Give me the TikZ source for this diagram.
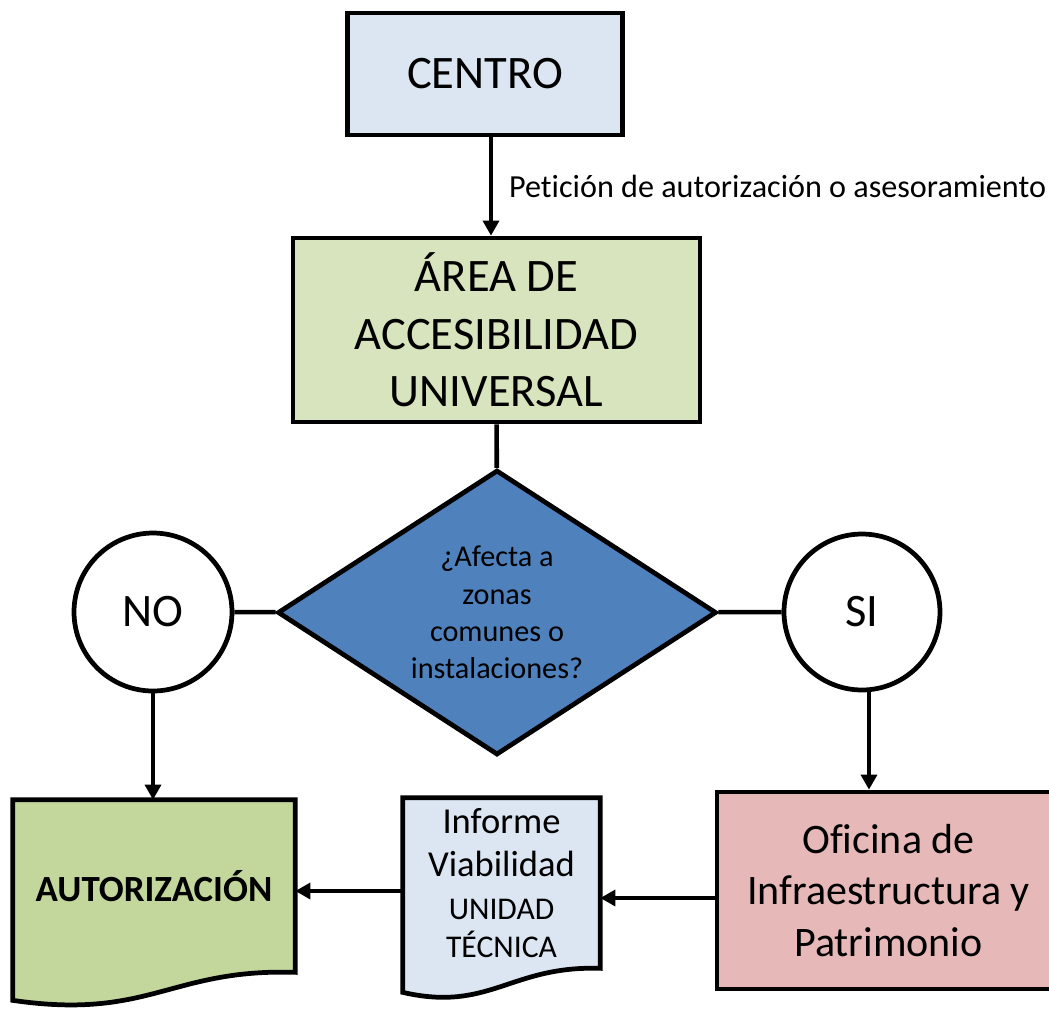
\documentclass[tikz,border=0pt]{standalone}
\usepackage{fontspec}
\setmainfont{Carlito}[Ligatures=NoCommon]
\usetikzlibrary{shapes.geometric,arrows.meta,backgrounds}
\definecolor{centroblue}{HTML}{DCE6F2}
\definecolor{areagreen}{HTML}{D7E4BD}
\definecolor{decblue}{HTML}{4F81BD}
\definecolor{autgreen}{HTML}{C3D69B}
\definecolor{ofipink}{HTML}{E6B9B8}
\newcommand{\bigtext}{\fontsize{26.5}{32.7}\selectfont}

\begin{document}
\begin{tikzpicture}[x=0.02cm,y=-0.02cm,
    box/.style={draw,line width=2.7pt,inner sep=0pt,align=center,font=\bigtext},
    answer/.style={circle,draw,fill=white,line width=2.7pt,minimum size=3.16cm,inner sep=0pt,font=\bigtext},
    docbox/.style={inner sep=0pt,align=center},
    doc/.style={draw,line width=2.7pt},
    link/.style={line width=2.6pt},
    arr/.style={line width=2.6pt,-{Triangle[length=8.5pt,width=9pt]}}]
  \useasboundingbox (0,0) rectangle (1049,1009);

  \node[box,fill=centroblue,minimum width=5.5cm,minimum height=2.44cm] (centro) at (485,74) {CENTRO};
  \node[box,fill=areagreen,minimum width=8.14cm,minimum height=3.68cm] (area) at (496.5,330)
    {ÁREA DE\\ACCESIBILIDAD\\UNIVERSAL};
  \node[diamond,draw,fill=decblue,line width=2.7pt,aspect=1.54,minimum width=8.78cm,
    minimum height=5.7cm,inner sep=0pt,align=center,font=\fontsize{17.2}{21.3}\selectfont]
    (dec) at (497,612.5) {¿Afecta a\\zonas\\comunes o\\instalaciones?};
  \node[answer] (no) at (153,612) {NO};
  \node[answer,minimum size=3.12cm] (si) at (862,612) {SI};
  \node[box,fill=ofipink,minimum width=6.86cm,minimum height=3.94cm,
    font=\fontsize{23.9}{29.3}\selectfont] (ofi) at (888.5,890.5)
    {Oficina de\\Infraestructura y\\Patrimonio};
  \node[docbox,minimum width=5.64cm,minimum height=3.44cm,
    font=\bfseries\fontsize{21}{25}\selectfont] (aut) at (154,886) {AUTORIZACIÓN};
  \node[docbox,minimum width=3.94cm,minimum height=3.4cm,
    font=\fontsize{20.8}{24.5}\selectfont] (inf) at (501.5,883)
    {Informe\\Viabilidad\\{\fontsize{18}{21}\selectfont UNIDAD}\\[-3pt]{\fontsize{18}{21}\selectfont TÉCNICA}};

  % document outlines behind the texts
  \begin{scope}[on background layer]
    \draw[doc,fill=autgreen] (aut.north west) -- (aut.north east) -- (aut.south east)
      .. controls +(-125,-4) and +(137,20) .. ([yshift=-0.56cm]aut.south west) -- cycle;
    \draw[doc,fill=centroblue] (inf.north west) -- (inf.north east) -- (inf.south east)
      .. controls +(-90,-3) and +(87,20) .. ([yshift=-0.48cm]inf.south west) -- cycle;
  \end{scope}

  \draw[arr] ([xshift=0.12cm]centro.south) -- ([xshift=0.12cm]centro.south |- area.north)
    node[midway,right,xshift=0.2cm,font=\fontsize{18.3}{22}\selectfont] {Petición de autorización o asesoramiento};
  \draw[link] (area) -- (dec);
  \draw[link] (dec) -- (no);
  \draw[link] (dec) -- (si);
  \draw[arr] (no.south) -- (no.south |- aut.north);
  \draw[arr] ([xshift=0.14cm]si.south) -- ([xshift=0.14cm]si.south |- ofi.north);
  \draw[arr] ([yshift=-0.15cm]ofi.west) -- ([yshift=-0.15cm]ofi.west -| inf.east);
  \draw[arr] ([yshift=-0.16cm]inf.west) -- ([yshift=-0.16cm]inf.west -| aut.east);
\end{tikzpicture}
\end{document}
